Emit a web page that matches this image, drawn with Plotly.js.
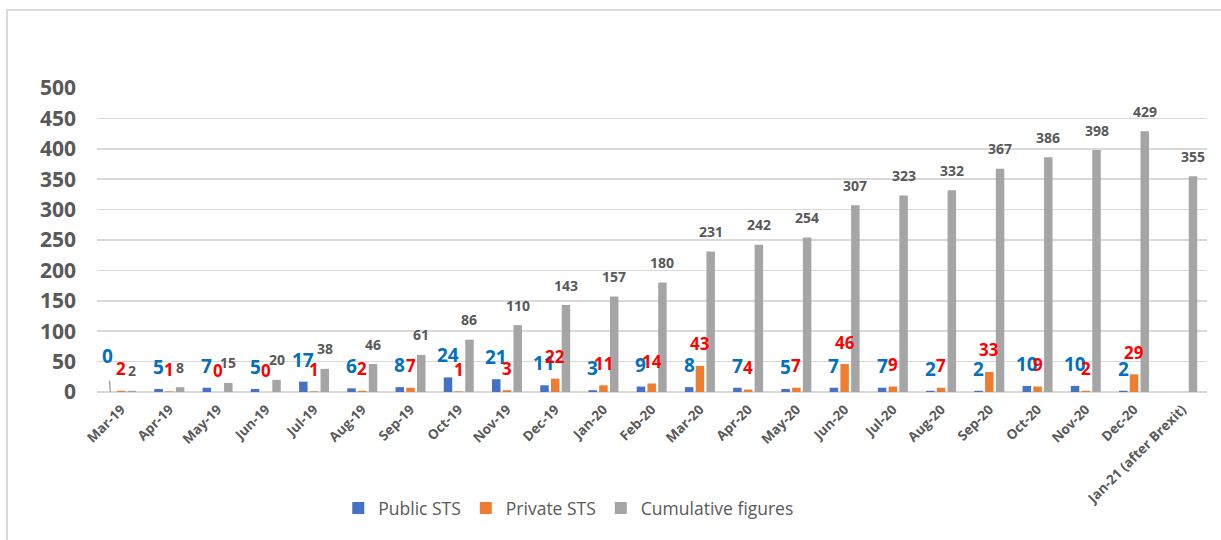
<!DOCTYPE html>
<html>
<head>
<meta charset="utf-8">
<script src="https://cdn.plot.ly/plotly-3.0.1.min.js"></script>
<style>
  html, body { margin: 0; padding: 0; background: #fff; overflow: hidden; }
  #chart { width: 1221px; height: 540px; position: absolute; left: 0; top: 0; }
  #frame { position: absolute; left: 6px; top: 9px; width: 1400px; height: 700px;
           border: 2px solid #d9d9d9; pointer-events: none; }
</style>
</head>
<body>
<div id="chart"></div>
<div id="frame"></div>
<script>
const categories = ["Mar-19","Apr-19","May-19","Jun-19","Jul-19","Aug-19","Sep-19","Oct-19","Nov-19","Dec-19",
  "Jan-20","Feb-20","Mar-20","Apr-20","May-20","Jun-20","Jul-20","Aug-20","Sep-20","Oct-20","Nov-20","Dec-20",
  "Jan-21 (after Brexit)"];
const publicSTS = [0,5,7,5,17,6,8,24,21,11,3,9,8,7,5,7,7,2,2,10,10,2,null];
const privateSTS = [2,1,0,0,1,2,7,1,3,22,11,14,43,4,7,46,9,7,33,9,2,29,null];
const cumulative = [2,8,15,20,38,46,61,86,110,143,157,180,231,242,254,307,323,332,367,386,398,429,355];
const yTicks = [0,50,100,150,200,250,300,350,400,450,500];

const W = 1221, H = 540;
const margin = {l: 97, r: 14, t: 88, b: 148};
const bargap = 0.332, bargroupgap = 0.21;
const catPx = (W - margin.l - margin.r) / categories.length;
const slotPx = catPx * (1 - bargap) / 3;

const font = "'Open Sans', 'DejaVu Sans', sans-serif";

const series = [
  {name: "Public STS", y: publicSTS, color: "#4472C4", label: "#0070C0", size: 19, shift: -slotPx, lift: 22},
  {name: "Private STS", y: privateSTS, color: "#ED7D31", label: "#FF0000", size: 17, shift: 0, lift: 22},
  {name: "Cumulative figures", y: cumulative, color: "#A5A5A5", label: "#595959", size: 14, shift: slotPx, lift: 20}
];

const traces = series.map(s => ({
  type: "bar", name: s.name, x: categories, y: s.y,
  marker: {color: s.color}, hoverinfo: "x+y+name"
}));

const annotations = [];
series.forEach((s, si) => {
  s.y.forEach((v, i) => {
    if (v === null || v === undefined) return;
    const a = {
      xref: "x", yref: "y", x: categories[i], y: v, text: String(v),
      showarrow: false, xshift: s.shift, yshift: s.lift, yanchor: "middle", xanchor: "center",
      font: {family: font, size: s.size, color: s.label, weight: "bold"}
    };
    // Excel-style leader line for the moved label of the first public value
    if (si === 0 && i === 0) {
      a.showarrow = true; a.arrowhead = 0; a.arrowwidth = 1.5; a.arrowcolor = "#A6A6A6";
      a.ax = -3; a.ay = -36; a.yshift = 0; a.standoff = 0; a.startstandoff = 10;
    }
    annotations.push(a);
  });
});

const layout = {
  width: W, height: H, margin: margin,
  paper_bgcolor: "#fff", plot_bgcolor: "#fff",
  barmode: "group", bargap: bargap, bargroupgap: bargroupgap,
  showlegend: true,
  legend: {orientation: "h", x: 0.425, xanchor: "center", y: -0.382, yanchor: "middle",
           font: {family: font, size: 17.5, color: "#595959"}, bgcolor: "rgba(0,0,0,0)"},
  xaxis: {type: "category", tickangle: -45, showgrid: false, showline: false, zeroline: false,
          ticks: "", ticklabelstandoff: 6,
          tickfont: {family: font, size: 13.5, color: "#595959", weight: "bold"}},
  yaxis: {range: [0, 500], tickvals: yTicks, ticktext: yTicks.map(String),
          showgrid: true, gridcolor: "#D9D9D9", gridwidth: 1.5,
          zeroline: true, zerolinecolor: "#D9D9D9", zerolinewidth: 1.5, showline: false,
          ticks: "", ticklabelstandoff: 20,
          tickfont: {family: font, size: 21, color: "#595959", weight: "bold"}},
  annotations: annotations,
  font: {family: font, color: "#595959"}
};

Plotly.newPlot("chart", traces, layout, {displayModeBar: false, staticPlot: true});
</script>
</body>
</html>
